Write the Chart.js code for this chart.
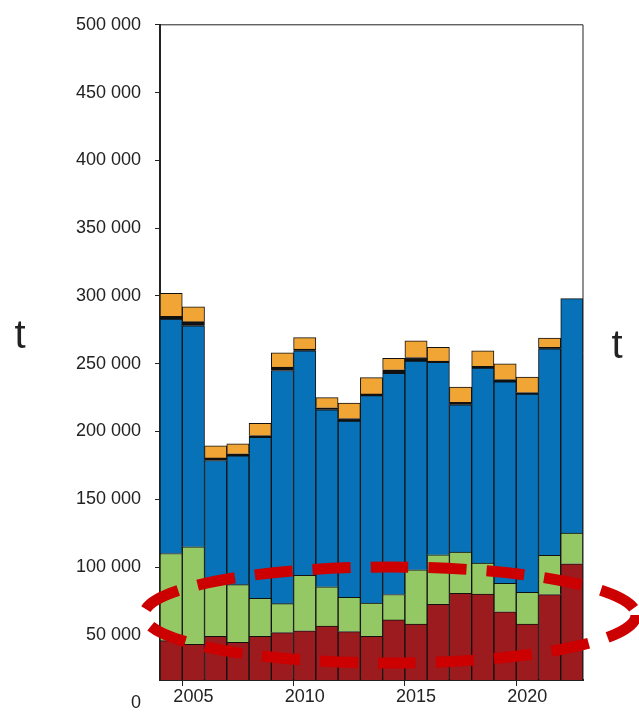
<!DOCTYPE html>
<html>
<head>
<meta charset="utf-8">
<script src="https://cdn.jsdelivr.net/npm/chart.js@4/dist/chart.umd.min.js"></script>
<style>
  html, body { margin: 0; padding: 0; background: #fff; }
  #wrap { width: 639px; height: 720px; }
</style>
</head>
<body>
<div id="wrap"><canvas id="tonnage"></canvas></div>
<script>
// ========= Data =========
const years = ["2004", "2005", "2006", "2007", "2008", "2009", "2010", "2011", "2012", "2013",
    "2014", "2015", "2016", "2017", "2018", "2019", "2020", "2021", "2022"];
const labelYears = ["2005", "2010", "2015", "2020"];

// stack segments (t), bottom to top
const redPart    = [45700, 43000, 49000, 44500, 49000, 51700, 53000, 56500, 52400, 49000, 61000, 58000, 72500, 80700, 80000, 67000, 58000, 79700, 102400];
const greenPart  = [64300, 72000, 39000, 42500, 28000, 21300, 41000, 29000, 25200, 24500, 18800, 40000, 36500, 30300, 23000, 21000, 23400, 29000, 22600];
const bluePart   = [173000, 163000, 90600, 95000, 118700, 172000, 165600, 130500, 130000, 153000, 163200, 154000, 142000, 108700, 143700, 148600, 146200, 152300, 173000];
const blackPart  = [2000, 3000, 1900, 1500, 1300, 2500, 1200, 1500, 2000, 1200, 2500, 2600, 1000, 1800, 1300, 1700, 1200, 1000, 0];
const orangePart = [17000, 11000, 9000, 7500, 9000, 10500, 8400, 7500, 11400, 12000, 8500, 12200, 10000, 11200, 11600, 11700, 11400, 7000, 0];

const yTicks = [0, 50000, 100000, 150000, 200000, 250000, 300000, 350000, 400000, 450000, 500000];

// ========= Helper =========
function fmt(v) {
    return v === 0 ? "0" : String(v).replace(/\B(?=(\d{3})+(?!\d))/g, " ");
}

function segment(label, data, color) {
    return {
        label: label,
        data: data,
        backgroundColor: color,
        borderColor: "#111",
        borderWidth: 1,
        categoryPercentage: 1,
        barPercentage: 1,
    };
}

// frame, "t" labels and the red dashed ellipse
const decorPlugin = {
    id: "decor",
    afterDraw(chart) {
        const { ctx, chartArea } = chart;
        ctx.save();
        ctx.strokeStyle = "#222";
        ctx.lineWidth = 1;
        ctx.beginPath();
        ctx.moveTo(chartArea.left, chartArea.top);
        ctx.lineTo(chartArea.right, chartArea.top);
        ctx.lineTo(chartArea.right, chartArea.bottom);
        ctx.stroke();

        ctx.fillStyle = "#222";
        ctx.font = "40px 'Liberation Sans', Arial, sans-serif";
        ctx.textAlign = "center";
        ctx.textBaseline = "middle";
        ctx.fillText("t", 20, 337);
        ctx.fillText("t", 617, 347);

        ctx.strokeStyle = "#cc0000";
        ctx.lineWidth = 11;
        ctx.setLineDash([38, 20]);
        ctx.beginPath();
        ctx.ellipse(390, 615, 246, 48, 0, 0, Math.PI * 2);
        ctx.stroke();
        ctx.restore();
    },
};

// ========= Stacked bars =========
new Chart(document.getElementById("tonnage"), {
    type: "bar",
    data: {
        labels: years,
        datasets: [
            segment("red", redPart, "#9b1b1f"),
            segment("green", greenPart, "#93c864"),
            segment("blue", bluePart, "#0772b8"),
            segment("black", blackPart, "#111111"),
            segment("orange", orangePart, "#f0a535"),
        ],
    },
    options: {
        responsive: true,
        maintainAspectRatio: false,
        animation: false,
        layout: { padding: { left: 0, right: 56, top: 17, bottom: 0 } },
        plugins: {
            legend: { display: false },
            tooltip: { enabled: false },
        },
        scales: {
            x: {
                stacked: true,
                grid: {
                    display: true,
                    drawOnChartArea: false,
                    color: (c) => (labelYears.includes(years[c.index]) ? "#222" : "rgba(0,0,0,0)"),
                    tickLength: 6,
                },
                border: { color: "#222", width: 2 },
                ticks: {
                    autoSkip: false,
                    maxRotation: 0,
                    color: "#222",
                    padding: 0,
                    font: { family: "'Liberation Sans', Arial, sans-serif", size: 18 },
                    callback: (v, i) => (labelYears.includes(years[i]) ? years[i] : ""),
                },
                afterFit: (s) => { s.height = 40; },
            },
            y: {
                stacked: true,
                min: 16700,
                max: 500000,
                afterBuildTicks: (s) => { s.ticks = yTicks.map((v) => ({ value: v })); },
                grid: {
                    drawOnChartArea: false,
                    color: (c) => (c.tick && c.tick.value === 0 ? "rgba(0,0,0,0)" : "#222"),
                    tickLength: 5,
                },
                border: { color: "#222", width: 2 },
                ticks: {
                    color: "#222",
                    padding: 14,
                    font: { family: "'Liberation Sans', Arial, sans-serif", size: 18 },
                    callback: (v) => fmt(v),
                },
                afterFit: (s) => { s.width = 160; },
            },
        },
    },
    plugins: [decorPlugin],
});
</script>
</body>
</html>
